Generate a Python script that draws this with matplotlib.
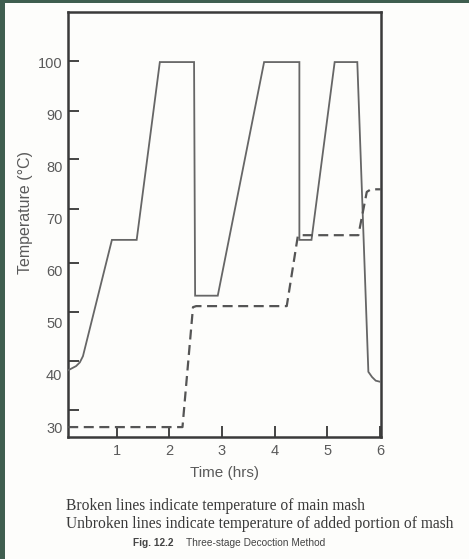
import matplotlib
matplotlib.use("Agg")
import matplotlib.pyplot as plt
from matplotlib.patches import Rectangle

# ---- data (hours, °C) ----
added_time = [0.08, 0.23, 0.30, 0.36, 0.91, 1.38, 1.82, 2.47, 2.49, 2.92, 3.80, 4.47, 4.47, 4.70, 5.14, 5.57, 5.78, 5.85, 5.92, 6.00]
added_temp = [40.9, 41.7, 42.4, 43.6, 65.9, 65.9, 100.0, 100.0, 55.2, 55.2, 100.0, 100.0, 65.9, 65.9, 100.0, 100.0, 40.6, 39.6, 38.9, 38.7]

main_time = [0.08, 2.25, 2.45, 2.51, 4.23, 4.44, 4.48, 5.59, 5.75, 5.83, 6.02]
main_temp = [30.0, 30.0, 53.0, 53.2, 53.2, 66.6, 66.8, 66.8, 75.1, 75.6, 75.6]

y_label_values = [30, 40, 50, 60, 70, 80, 90, 100]
y_mark_values = [33.2, 42.7, 52.0, 61.5, 71.8, 81.4, 90.6, 100.2]
x_ticks = [1, 2, 3, 4, 5, 6]

W, H = 469, 559
fig = plt.figure(figsize=(W / 100, H / 100), dpi=100)
fig.patch.set_facecolor("#3f5e4f")
fig.patches.append(Rectangle((5 / W, 0), 1, 1 - 3 / H, transform=fig.transFigure,
                             facecolor="#fdfdfb", edgecolor="none", zorder=-10))

ax = fig.add_axes([68 / W, 1 - 437 / H, (381 - 68) / W, (437 - 12) / H])
ax.set_zorder(1)
ax.set_facecolor("#fdfdfb")

ax.plot(added_time, added_temp, color="#666666", lw=1.3, solid_joinstyle="miter", zorder=3)
ax.plot(main_time, main_temp, color="#555555", lw=1.6, dashes=(4.5, 2.5), zorder=3)

ax.set_xlim(0.076, 6.02)
ax.set_ylim(28.1, 109.6)

for s in ax.spines.values():
    s.set_linewidth(1.8)
    s.set_color("#3a3a3a")

tc = "#5a5a5a"
ax.set_xticks(x_ticks)
ax.set_xticklabels([str(v) for v in x_ticks])
ax.tick_params(axis="x", direction="in", length=8, width=1.4, color="#444444",
               labelsize=10.5, labelcolor=tc, pad=5)

ax.set_yticks(y_label_values)
ax.set_yticklabels([str(v) for v in y_label_values])
ax.tick_params(axis="y", which="major", length=0, labelsize=10.5, labelcolor=tc, pad=4)
ax.set_yticks(y_mark_values, minor=True)
ax.tick_params(axis="y", which="minor", direction="in", length=8, width=1.4, color="#444444")
ax.tick_params(axis="x", which="minor", length=0)

for lab in ax.get_xticklabels() + ax.get_yticklabels():
    lab.set_family("Liberation Sans")

ax.set_xlabel("Time (hrs)", fontsize=11, color=tc, family="Liberation Sans", labelpad=5.5)
ax.set_ylabel("Temperature (\u00b0C)", fontsize=11.5, color=tc, family="Liberation Sans")
ax.yaxis.set_label_coords(-0.112, 0.529)

fig.text(66 / W, 1 - 506 / H, "Broken lines indicate temperature of main mash",
         family="Liberation Serif", fontsize=11.2, color="#3a3a3a", va="center", ha="left")
fig.text(66 / W, 1 - 524 / H, "Unbroken lines indicate temperature of added portion of mash",
         family="Liberation Serif", fontsize=11.2, color="#3a3a3a", va="center", ha="left")
fig.text(133 / W, 1 - 543 / H, "Fig. 12.2", family="Liberation Sans", fontsize=7.3,
         fontweight="bold", color="#444444", va="center", ha="left")
fig.text(186 / W, 1 - 543 / H, "Three-stage Decoction Method", family="Liberation Sans",
         fontsize=7.3, color="#444444", va="center", ha="left")

fig.savefig("out.png", dpi=100, facecolor=fig.get_facecolor())
